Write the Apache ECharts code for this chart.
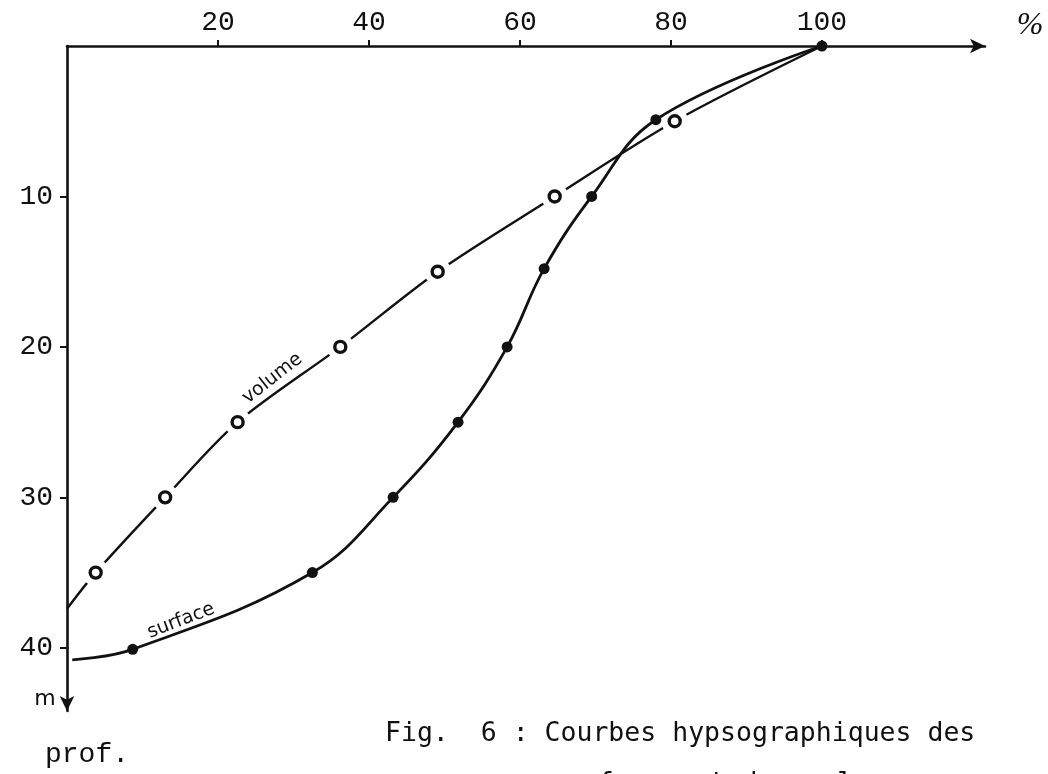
<!DOCTYPE html>
<html><head><meta charset="utf-8">
<script src="https://cdn.jsdelivr.net/npm/echarts@6/dist/echarts.min.js"></script>
<style>html,body{margin:0;padding:0;background:#fff}#c{width:1048px;height:774px}</style>
</head><body><div id="c"></div>
<script>
// ---- data ----
const volumePct   = [0, 3.8, 13.0, 22.6, 36.2, 49.1, 64.6, 80.5, 100];
const volumeDepth = [37.4, 35, 30, 25, 20, 15, 10, 5, 0];
const surfacePct   = [0.7, 8.7, 32.5, 43.2, 51.8, 58.3, 63.2, 69.5, 78.0, 100];
const surfaceDepth = [40.8, 40.1, 35, 30, 25, 20, 14.8, 10, 4.9, 0];
const xTickValues = [20, 40, 60, 80, 100];
const yTickValues = [10, 20, 30, 40];

const INK = '#111';
const chart = echarts.init(document.getElementById('c'));
const pairs = (xs, ys) => xs.map((x, i) => [x, ys[i]]);
const volumeLine = pairs(volumePct, volumeDepth);
const volumeMarks = volumeLine.slice(1, -1);
const surfaceLine = pairs(surfacePct, surfaceDepth).map((p, i) => i === 0 ? {value: p, symbol: 'none'} : p);

const mono = 'Liberation Mono';
chart.setOption({
  animation: false,
  backgroundColor: '#fff',
  grid: {left: 67, top: 46, width: 918, height: 665},
  xAxis: {
    type: 'value', position: 'top', min: 0, max: 121.6,
    axisLine: {show: true, onZero: false, symbol: ['none', 'arrow'], symbolSize: [11, 15],
      lineStyle: {color: INK, width: 2.6}},
    axisTick: {show: true, length: 6, customValues: xTickValues, lineStyle: {color: INK, width: 2}},
    axisLabel: {show: true, customValues: xTickValues, margin: 9, color: INK,
      fontFamily: mono, fontSize: 28},
    splitLine: {show: false}
  },
  yAxis: {
    type: 'value', inverse: true, min: 0, max: 44.2,
    axisLine: {show: true, onZero: false, symbol: ['arrow', 'none'], symbolSize: [11, 15],
      lineStyle: {color: INK, width: 2.6}},
    axisTick: {show: true, length: 7, customValues: yTickValues, lineStyle: {color: INK, width: 2}},
    axisLabel: {show: true, customValues: yTickValues, margin: 14, color: INK,
      fontFamily: mono, fontSize: 28},
    splitLine: {show: false}
  },
  series: [
    {type: 'line', name: 'volume', data: volumeLine, smooth: 0.3, showSymbol: false,
      lineStyle: {color: INK, width: 2.4}, z: 1, silent: true},
    {type: 'scatter', name: 'gap', data: volumeMarks, symbol: 'circle', symbolSize: 27,
      itemStyle: {color: '#fff', opacity: 1}, z: 2, silent: true},
    {type: 'line', name: 'surface', data: surfaceLine, smooth: 0.4, symbol: 'circle', symbolSize: 11,
      showSymbol: true, showAllSymbol: true, itemStyle: {color: INK, opacity: 1},
      lineStyle: {color: INK, width: 2.8}, z: 3, silent: true},
    {type: 'scatter', name: 'volume pts', data: volumeMarks, symbol: 'circle', symbolSize: 11,
      itemStyle: {color: '#fff', borderColor: INK, borderWidth: 3.4, opacity: 1}, z: 4, silent: true}
  ]
});

const pv = chart.convertToPixel({gridIndex: 0}, [27.2, 22.1]);
const ps = chart.convertToPixel({gridIndex: 0}, [15.1, 38.2]);
chart.setOption({
  graphic: [
    {type: 'text', x: pv[0], y: pv[1], rotation: 38 * Math.PI / 180,
      style: {text: 'volume', fontFamily: 'DejaVu Sans', fontSize: 19, fill: INK, align: 'center', verticalAlign: 'middle'}},
    {type: 'text', x: ps[0], y: ps[1], rotation: 21 * Math.PI / 180,
      style: {text: 'surface', fontFamily: 'DejaVu Sans', fontSize: 19, fill: INK, align: 'center', verticalAlign: 'middle'}},
    {type: 'text', x: 1030, y: 26,
      style: {text: '%', fontFamily: 'Liberation Serif', fontStyle: 'italic', fontSize: 32, fill: INK, align: 'center', verticalAlign: 'middle'}},
    {type: 'text', x: 45, y: 699.5,
      style: {text: 'm', fontFamily: 'DejaVu Sans', fontSize: 22, fill: INK, align: 'center', verticalAlign: 'middle'}},
    {type: 'text', x: 45, y: 754.5,
      style: {text: 'prof.', fontFamily: mono, fontSize: 28, fill: INK, align: 'left', verticalAlign: 'middle'}},
    {type: 'text', x: 385, y: 734,
      style: {text: 'Fig.  6 : Courbes hypsographiques des', fontFamily: 'DejaVu Sans Mono', fontSize: 26.5, fill: INK, align: 'left', verticalAlign: 'middle'}},
    {type: 'text', x: 550, y: 784,
      style: {text: 'surfaces et des volumes', fontFamily: 'DejaVu Sans Mono', fontSize: 26.5, fill: INK, align: 'left', verticalAlign: 'middle'}}
  ]
});
</script></body></html>
